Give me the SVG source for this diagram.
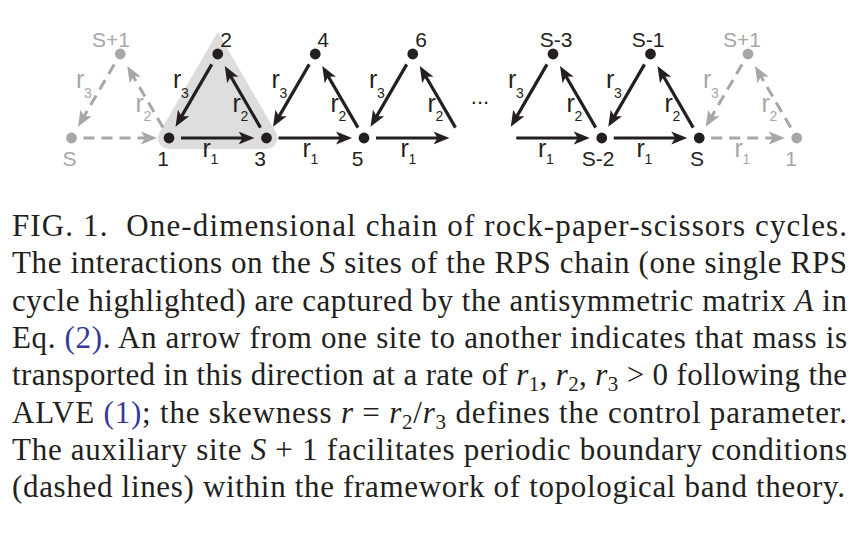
<svg xmlns="http://www.w3.org/2000/svg" width="860" height="534" viewBox="0 0 860 534">
<defs>
<style>
.lbl{font-family:"Liberation Sans",Arial,sans-serif;font-size:21px;text-anchor:middle;fill:#231f20}
.lg{fill:#a7a7a7}
.dot{fill:#231f20}
.dotg{fill:#a7a7a7}
.r{font-family:"Liberation Sans",Arial,sans-serif;font-size:25px;fill:#231f20}
.rg{fill:#a7a7a7}
.sub{font-size:14px}
.edge{stroke:#231f20;stroke-width:3.2;fill:none;marker-end:url(#ah)}
.dash{stroke:#a7a7a7;stroke-width:3;fill:none;stroke-dasharray:11 7;marker-end:url(#ahg)}
.cap{font-family:"Liberation Serif","Times New Roman",serif;font-size:31px;fill:#231f20}
.it{font-style:italic}
.bl{fill:#35399a}
.cs{font-size:21px}
</style>
<marker id="ah" markerUnits="userSpaceOnUse" markerWidth="18" markerHeight="16" viewBox="0 -8 18 16" refX="8" refY="0" orient="auto">
<path d="M16,0 L0,-6.5 L4,0 L0,6.5 Z" fill="#231f20"/>
</marker>
<marker id="ahg" markerUnits="userSpaceOnUse" markerWidth="18" markerHeight="16" viewBox="0 -8 18 16" refX="8" refY="0" orient="auto">
<path d="M16,0 L0,-6.5 L4,0 L0,6.5 Z" fill="#a7a7a7"/>
</marker>
</defs>

<path id="highlight" d="M217.75,32 L159.5,132.5 A11,11 0 0 0 169,149 L266.5,149 A11,11 0 0 0 276,132.5 Z" fill="#dddddd"/>

<g id="connectors">
<line class="dash" x1="83.5" y1="138" x2="149" y2="138"/>
<line class="dash" x1="114.23" y1="64.38" x2="82.05" y2="119.83"/>
<line class="dash" x1="162.98" y1="127.62" x2="131.3" y2="73.03"/>
<line class="edge" x1="181" y1="138" x2="246.5" y2="138"/>
<line class="edge" x1="211.73" y1="64.38" x2="179.55" y2="119.83"/>
<line class="edge" x1="260.48" y1="127.62" x2="228.8" y2="73.03"/>
<line class="edge" x1="278.5" y1="138" x2="344" y2="138"/>
<line class="edge" x1="309.23" y1="64.38" x2="277.05" y2="119.83"/>
<line class="edge" x1="357.98" y1="127.62" x2="326.3" y2="73.03"/>
<line class="edge" x1="376" y1="138" x2="441.5" y2="138"/>
<line class="edge" x1="406.73" y1="64.38" x2="374.55" y2="119.83"/>
<line class="edge" x1="455.48" y1="127.62" x2="423.8" y2="73.03"/>
<line class="edge" x1="516.25" y1="138" x2="581.75" y2="138"/>
<line class="edge" x1="546.98" y1="64.38" x2="514.8" y2="119.83"/>
<line class="edge" x1="595.73" y1="127.62" x2="564.05" y2="73.03"/>
<line class="edge" x1="613.75" y1="138" x2="679.25" y2="138"/>
<line class="edge" x1="644.48" y1="64.38" x2="612.3" y2="119.83"/>
<line class="edge" x1="693.23" y1="127.62" x2="661.55" y2="73.03"/>
<line class="dash" x1="711.25" y1="138" x2="776.75" y2="138"/>
<line class="dash" x1="741.98" y1="64.38" x2="709.8" y2="119.83"/>
<line class="dash" x1="790.73" y1="127.62" x2="759.05" y2="73.03"/>

<text class="r rg" x="76" y="88">r<tspan class="sub" x="84" y="98">3</tspan></text>
<text class="r rg" x="135.5" y="112">r<tspan class="sub" x="143.5" y="121">2</tspan></text>

<text class="r" x="173" y="88">r<tspan class="sub" x="181" y="98">3</tspan></text>
<text class="r" x="232.5" y="112">r<tspan class="sub" x="240.5" y="121">2</tspan></text>
<text class="r" x="202.5" y="157">r<tspan class="sub" x="210.5" y="164">1</tspan></text>

<text class="r" x="271.5" y="88">r<tspan class="sub" x="279.5" y="98">3</tspan></text>
<text class="r" x="330.5" y="112">r<tspan class="sub" x="338.5" y="121">2</tspan></text>
<text class="r" x="302.5" y="157">r<tspan class="sub" x="310.5" y="164">1</tspan></text>

<text class="r" x="369" y="88">r<tspan class="sub" x="377" y="98">3</tspan></text>
<text class="r" x="427.5" y="112">r<tspan class="sub" x="435.5" y="121">2</tspan></text>
<text class="r" x="400.5" y="157">r<tspan class="sub" x="408.5" y="164">1</tspan></text>

<text class="r" x="508" y="88">r<tspan class="sub" x="516" y="98">3</tspan></text>
<text class="r" x="566.5" y="112">r<tspan class="sub" x="574.5" y="121">2</tspan></text>
<text class="r" x="538" y="157">r<tspan class="sub" x="546" y="164">1</tspan></text>

<text class="r" x="606" y="88">r<tspan class="sub" x="614" y="98">3</tspan></text>
<text class="r" x="664.5" y="112">r<tspan class="sub" x="672.5" y="121">2</tspan></text>
<text class="r" x="636.5" y="157">r<tspan class="sub" x="644.5" y="164">1</tspan></text>

<text class="r rg" x="703" y="88">r<tspan class="sub" x="711" y="98">3</tspan></text>
<text class="r rg" x="761.5" y="112">r<tspan class="sub" x="769.5" y="121">2</tspan></text>
<text class="r rg" x="734.5" y="157">r<tspan class="sub" x="742.5" y="164">1</tspan></text>
</g>

<g id="node-S-left"><circle class="dotg" cx="71.5" cy="138" r="5.4"/><text class="lbl lg" x="69.5" y="166">S</text></g>
<g id="node-S1-left"><circle class="dotg" cx="120.25" cy="54" r="5.4"/><text class="lbl lg" x="111" y="47">S+1</text></g>
<g id="node-1"><circle class="dot" cx="169" cy="138" r="5.4"/><text class="lbl" x="163" y="166">1</text></g>
<g id="node-2"><circle class="dot" cx="217.75" cy="54" r="5.4"/><text class="lbl" x="226" y="47">2</text></g>
<g id="node-3"><circle class="dot" cx="266.5" cy="138" r="5.4"/><text class="lbl" x="260" y="166">3</text></g>
<g id="node-4"><circle class="dot" cx="315.25" cy="54" r="5.4"/><text class="lbl" x="323" y="47">4</text></g>
<g id="node-5"><circle class="dot" cx="364" cy="138" r="5.4"/><text class="lbl" x="357.5" y="166">5</text></g>
<g id="node-6"><circle class="dot" cx="412.75" cy="54" r="5.4"/><text class="lbl" x="421" y="47">6</text></g>
<g id="ellipsis"><text class="lbl" x="480" y="104" style="font-size:22px">...</text></g>
<g id="node-S-3"><circle class="dot" cx="553" cy="54" r="5.4"/><text class="lbl" x="556" y="47">S-3</text></g>
<g id="node-S-2"><circle class="dot" cx="601.75" cy="138" r="5.4"/><text class="lbl" x="598" y="166">S-2</text></g>
<g id="node-S-1"><circle class="dot" cx="650.5" cy="54" r="5.4"/><text class="lbl" x="648" y="47">S-1</text></g>
<g id="node-S"><circle class="dot" cx="699.25" cy="138" r="5.4"/><text class="lbl" x="697" y="166">S</text></g>
<g id="node-S1-right"><circle class="dotg" cx="748" cy="54" r="5.4"/><text class="lbl lg" x="742" y="47">S+1</text></g>
<g id="node-1-right"><circle class="dotg" cx="796.75" cy="138" r="5.4"/><text class="lbl lg" x="791" y="166">1</text></g>

<g id="caption">
<text class="cap" x="12" y="236" textLength="835" lengthAdjust="spacing" xml:space="preserve">FIG. 1.  One-dimensional chain of rock-paper-scissors cycles.</text>
<text class="cap" x="12" y="273.3" textLength="835" lengthAdjust="spacing">The interactions on the <tspan class="it">S</tspan> sites of the RPS chain (one single RPS</text>
<text class="cap" x="12" y="310.6" textLength="835" lengthAdjust="spacing">cycle highlighted) are captured by the antisymmetric matrix <tspan class="it">A</tspan> in</text>
<text class="cap" x="12" y="347.9" textLength="835" lengthAdjust="spacing">Eq. <tspan class="bl">(2)</tspan>. An arrow from one site to another indicates that mass is</text>
<text class="cap" x="12" y="385.2" textLength="835" lengthAdjust="spacing">transported in this direction at a rate of <tspan class="it">r</tspan><tspan class="cs" dy="6">1</tspan><tspan dy="-6">, </tspan><tspan class="it">r</tspan><tspan class="cs" dy="6">2</tspan><tspan dy="-6">, </tspan><tspan class="it">r</tspan><tspan class="cs" dy="6">3</tspan><tspan dy="-6"> &gt; 0 following the</tspan></text>
<text class="cap" x="12" y="422.5" textLength="835" lengthAdjust="spacing">ALVE <tspan class="bl">(1)</tspan>; the skewness <tspan class="it">r</tspan> = <tspan class="it">r</tspan><tspan class="cs" dy="6">2</tspan><tspan dy="-6">/</tspan><tspan class="it">r</tspan><tspan class="cs" dy="6">3</tspan><tspan dy="-6"> defines the control parameter.</tspan></text>
<text class="cap" x="12" y="459.8" textLength="835" lengthAdjust="spacing">The auxiliary site <tspan class="it">S</tspan> + 1 facilitates periodic boundary conditions</text>
<text class="cap" x="12" y="497.1" textLength="833" lengthAdjust="spacing">(dashed lines) within the framework of topological band theory.</text>
</g>
</svg>
